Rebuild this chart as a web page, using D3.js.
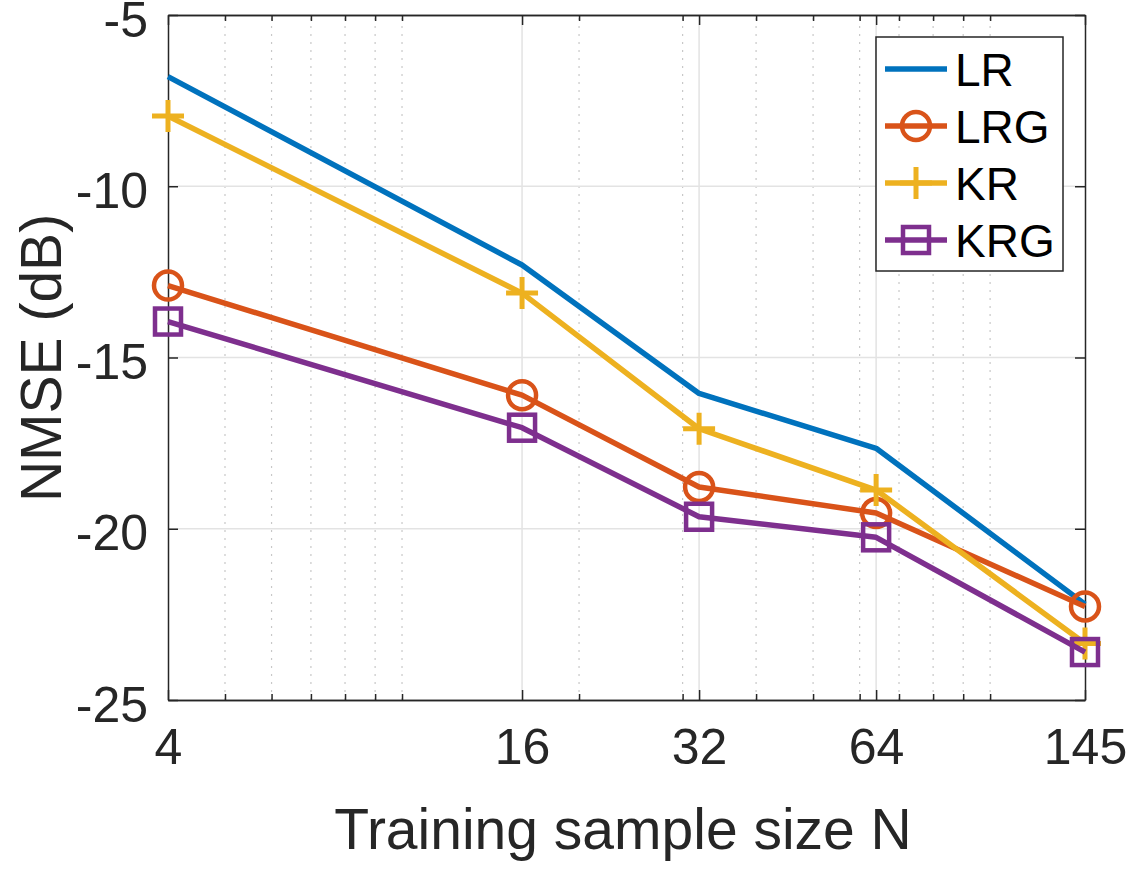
<!DOCTYPE html>
<html>
<head>
<meta charset="utf-8">
<script src="https://cdn.jsdelivr.net/npm/d3@7"></script>
<style>
  body { margin: 0; background: #fff; }
  svg text { font-family: "Liberation Sans", Arial, Helvetica, sans-serif; }
</style>
</head>
<body>
<div id="chart"></div>
<script>
// data
const sampleSizes = [4, 16, 32, 64, 145];
const lrValues  = [-6.8, -12.3, -16.05, -17.65, -22.2];
const lrgValues = [-12.9, -16.1, -18.78, -19.54, -22.27];
const krValues  = [-7.95, -13.12, -17.08, -18.87, -23.35];
const krgValues = [-13.95, -17.05, -19.65, -20.25, -23.6];
const yTicks = [-25, -20, -15, -10, -5];
const xMinorTicks = [5, 6, 7, 8, 9, 10, 20, 30, 40, 50, 60, 70, 80, 90, 100];

const seriesNames = ["LR", "LRG", "KR", "KRG"];
const seriesValues = [lrValues, lrgValues, krValues, krgValues];
const seriesColors = ["#0072BD", "#D95319", "#EDB120", "#7E2F8E"];
const seriesMarkers = ["none", "circle", "plus", "square"];

const width = 1139, height = 885;
const axisColor = "#262626";

const svg = d3.select("#chart").append("svg")
    .attr("width", width)
    .attr("height", height);

const x = d3.scaleLog().domain([4, 145]).range([168, 1085]);
const y = d3.scaleLinear().domain([-25, -5]).range([700, 15]);

// grid
const grid = svg.append("g").attr("class", "grid");
grid.selectAll(".minor-x")
    .data(xMinorTicks)
    .enter().append("line")
    .attr("x1", d => x(d)).attr("x2", d => x(d))
    .attr("y1", y(-25)).attr("y2", y(-5))
    .attr("stroke", "#c8c8c8")
    .attr("stroke-width", 1.2)
    .attr("stroke-dasharray", "2,6");
grid.selectAll(".major-x")
    .data(sampleSizes.slice(1, -1))
    .enter().append("line")
    .attr("x1", d => x(d)).attr("x2", d => x(d))
    .attr("y1", y(-25)).attr("y2", y(-5))
    .attr("stroke", "#e3e3e3")
    .attr("stroke-width", 1.5);
grid.selectAll(".major-y")
    .data(yTicks.slice(1, -1))
    .enter().append("line")
    .attr("x1", x(4)).attr("x2", x(145))
    .attr("y1", d => y(d)).attr("y2", d => y(d))
    .attr("stroke", "#e3e3e3")
    .attr("stroke-width", 1.5);

// axes, ticks pointing inward like matlab
function styleAxis(g) {
    g.select(".domain").attr("stroke", axisColor).attr("stroke-width", 1.5);
    g.selectAll(".tick line").attr("stroke", axisColor).attr("stroke-width", 1.5);
    g.selectAll(".tick text").attr("fill", axisColor).style("font-size", "50px");
}

svg.append("g")
    .attr("transform", `translate(0, ${y(-25)})`)
    .call(d3.axisBottom(x).tickValues(xMinorTicks).tickSize(-6).tickFormat("").tickSizeOuter(0))
    .call(styleAxis);
svg.append("g")
    .attr("transform", `translate(0, ${y(-5)})`)
    .call(d3.axisTop(x).tickValues(xMinorTicks).tickSize(-6).tickFormat("").tickSizeOuter(0))
    .call(styleAxis);

svg.append("g")
    .attr("class", "x-axis")
    .attr("transform", `translate(0, ${y(-25)})`)
    .call(d3.axisBottom(x).tickValues(sampleSizes).tickFormat(d3.format("d"))
        .tickSize(-10).tickSizeOuter(0).tickPadding(28))
    .call(styleAxis);
svg.append("g")
    .attr("transform", `translate(0, ${y(-5)})`)
    .call(d3.axisTop(x).tickValues(sampleSizes).tickFormat("").tickSize(-10).tickSizeOuter(0))
    .call(styleAxis);

svg.append("g")
    .attr("class", "y-axis")
    .attr("transform", `translate(${x(4)}, 0)`)
    .call(d3.axisLeft(y).tickValues(yTicks).tickFormat(d3.format("d"))
        .tickSize(-10).tickSizeOuter(0).tickPadding(20))
    .call(styleAxis);
svg.append("g")
    .attr("transform", `translate(${x(145)}, 0)`)
    .call(d3.axisRight(y).tickValues(yTicks).tickFormat("").tickSize(-10).tickSizeOuter(0))
    .call(styleAxis);

// matlab-style hyphen minus, labels sit a touch below the tick
svg.selectAll(".y-axis .tick text")
    .text(d => String(d))
    .attr("dy", "0.42em");

// axis labels
svg.append("text")
    .attr("x", 623)
    .attr("y", 849)
    .attr("text-anchor", "middle")
    .attr("fill", axisColor)
    .style("font-size", "57px")
    .text("Training sample size N");

svg.append("text")
    .attr("transform", `translate(61, 358) rotate(-90)`)
    .attr("text-anchor", "middle")
    .attr("fill", axisColor)
    .style("font-size", "57px")
    .text("NMSE (dB)");

// marker drawing
function drawMarker(g, type, color) {
    if (type === "circle") {
        g.append("circle").attr("r", 14)
            .attr("fill", "none").attr("stroke", color).attr("stroke-width", 4.5);
    } else if (type === "square") {
        g.append("rect").attr("x", -13).attr("y", -13).attr("width", 26).attr("height", 26)
            .attr("fill", "none").attr("stroke", color).attr("stroke-width", 4.5);
    } else if (type === "plus") {
        g.append("path").attr("d", "M-16,0H16M0,-16V16")
            .attr("fill", "none").attr("stroke", color).attr("stroke-width", 5);
    }
}

const line = d3.line()
    .x((d, i) => x(sampleSizes[i]))
    .y(d => y(d));

seriesValues.forEach((vals, s) => {
    let g = svg.append("g").attr("class", "series");
    g.append("path")
        .datum(vals)
        .attr("d", line)
        .attr("fill", "none")
        .attr("stroke", seriesColors[s])
        .attr("stroke-width", 5.5)
        .attr("stroke-linejoin", "round");
    vals.forEach((v, i) => {
        let m = g.append("g").attr("transform", `translate(${x(sampleSizes[i])}, ${y(v)})`);
        drawMarker(m, seriesMarkers[s], seriesColors[s]);
    });
});

// legend
const legend = svg.append("g").attr("class", "legend");
legend.append("rect")
    .attr("x", 876).attr("y", 37)
    .attr("width", 187).attr("height", 234)
    .attr("fill", "#fff")
    .attr("stroke", axisColor)
    .attr("stroke-width", 1.5);

seriesNames.forEach((name, i) => {
    let ly = 69 + i * 57;
    legend.append("line")
        .attr("x1", 885).attr("x2", 947)
        .attr("y1", ly).attr("y2", ly)
        .attr("stroke", seriesColors[i])
        .attr("stroke-width", 5.5);
    let m = legend.append("g").attr("transform", `translate(916, ${ly})`);
    drawMarker(m, seriesMarkers[i], seriesColors[i]);
    legend.append("text")
        .attr("x", 955)
        .attr("y", ly)
        .attr("dy", "0.36em")
        .attr("fill", "#000")
        .style("font-size", "46px")
        .text(name);
});
</script>
</body>
</html>
